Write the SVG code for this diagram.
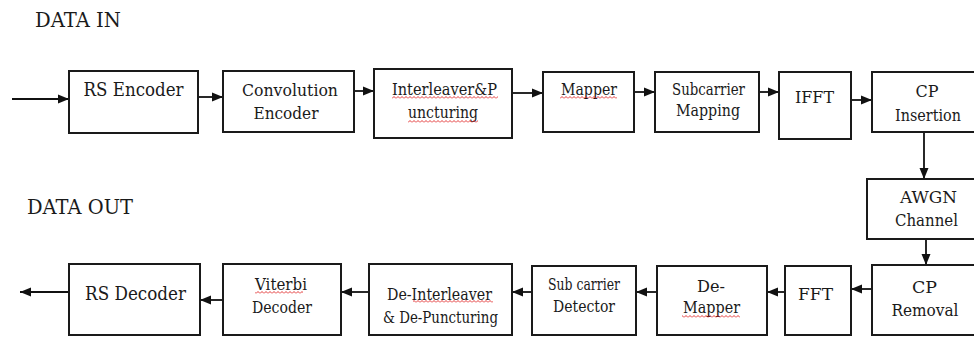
<svg xmlns="http://www.w3.org/2000/svg" width="974" height="337" viewBox="0 0 974 337">
<style>
.box{fill:#fff;stroke:#1a1a1a;stroke-width:2}
text{font-family:'DejaVu Serif','Liberation Serif',serif;fill:#1a1a1a}
.t{font-size:17.5px;text-anchor:middle}
.rs{font-size:18.5px}
.lbl{font-size:20px}
.c{stroke:#111;stroke-width:1.8;fill:none;marker-end:url(#ah)}
.sq{fill:url(#sq)}
</style>
<defs>
<marker id="ah" markerUnits="userSpaceOnUse" markerWidth="12" markerHeight="10" refX="11" refY="5" orient="auto">
<path d="M0,0.5 L11,5 L0,9.5 Z" fill="#111"/>
</marker>
<pattern id="sq" width="4" height="3" patternUnits="userSpaceOnUse">
<path d="M0,2.5 L2,0.5 L4,2.5" stroke="#e02020" stroke-width="0.9" fill="none"/>
</pattern>
</defs>
<rect width="974" height="337" fill="#fff"/>
<text class="lbl" x="35" y="27" textLength="86" lengthAdjust="spacingAndGlyphs">DATA IN</text>
<text class="lbl" x="27" y="214" textLength="106" lengthAdjust="spacingAndGlyphs">DATA OUT</text>
<g id="connectors">
<line class="c" x1="12" y1="99" x2="69" y2="99"/>
<line class="c" x1="198" y1="97" x2="223" y2="97"/>
<line class="c" x1="354" y1="91" x2="374" y2="91"/>
<line class="c" x1="512" y1="93" x2="543" y2="93"/>
<line class="c" x1="634" y1="92" x2="655" y2="92"/>
<line class="c" x1="759" y1="92" x2="779" y2="92"/>
<line class="c" x1="851" y1="100" x2="872" y2="100"/>
<line class="c" x1="924" y1="132" x2="924" y2="179"/>
<line class="c" x1="926" y1="239" x2="926" y2="265"/>
<line class="c" x1="872" y1="289" x2="851" y2="289"/>
<line class="c" x1="785" y1="292" x2="767" y2="292"/>
<line class="c" x1="657" y1="292" x2="636" y2="292"/>
<line class="c" x1="532" y1="292" x2="512" y2="292"/>
<line class="c" x1="369" y1="292" x2="341" y2="292"/>
<line class="c" x1="223" y1="300" x2="200" y2="300"/>
<line class="c" x1="69" y1="292" x2="20" y2="292"/>
</g>
<g id="rs-encoder"><rect class="box" x="69" y="71" width="129" height="62"/><text class="t rs" x="133.5" y="96" textLength="100" lengthAdjust="spacingAndGlyphs">RS Encoder</text></g>
<g id="convolution-encoder"><rect class="box" x="223" y="71" width="131" height="61"/><text class="t" x="290" y="96" textLength="96" lengthAdjust="spacingAndGlyphs">Convolution</text><text class="t" x="286" y="119" textLength="65" lengthAdjust="spacingAndGlyphs">Encoder</text></g>
<g id="interleaver"><rect class="box" x="374" y="69" width="138" height="69"/><text class="t" x="444.5" y="95" textLength="105" lengthAdjust="spacingAndGlyphs">Interleaver&amp;P</text><text class="t" x="443" y="118" textLength="70" lengthAdjust="spacingAndGlyphs">uncturing</text><rect class="sq" x="392" y="96" width="106" height="3"/><rect class="sq" x="408" y="120" width="70" height="3"/></g>
<g id="mapper"><rect class="box" x="543" y="72" width="91" height="60"/><text class="t" x="589" y="95" textLength="56" lengthAdjust="spacingAndGlyphs">Mapper</text><rect class="sq" x="560" y="96" width="57" height="3"/></g>
<g id="subcarrier-mapping"><rect class="box" x="655" y="72" width="104" height="60"/><text class="t" x="708.5" y="95" textLength="73" lengthAdjust="spacingAndGlyphs">Subcarrier</text><text class="t" x="708" y="116" textLength="64" lengthAdjust="spacingAndGlyphs">Mapping</text></g>
<g id="ifft"><rect class="box" x="779" y="72" width="72" height="67"/><text class="t" x="814.5" y="103" textLength="39" lengthAdjust="spacingAndGlyphs">IFFT</text></g>
<g id="cp-insertion"><rect class="box" x="872" y="72" width="118" height="60"/><text class="t" x="927" y="97" textLength="23" lengthAdjust="spacingAndGlyphs">CP</text><text class="t" x="928" y="121" textLength="66" lengthAdjust="spacingAndGlyphs">Insertion</text></g>
<g id="awgn-channel"><rect class="box" x="867" y="179" width="123" height="60"/><text class="t" x="928.5" y="203" textLength="57" lengthAdjust="spacingAndGlyphs">AWGN</text><text class="t" x="926.5" y="226" textLength="63" lengthAdjust="spacingAndGlyphs">Channel</text></g>
<g id="cp-removal"><rect class="box" x="872" y="265" width="118" height="70"/><text class="t" x="924.5" y="293" textLength="25" lengthAdjust="spacingAndGlyphs">CP</text><text class="t" x="925" y="316" textLength="67" lengthAdjust="spacingAndGlyphs">Removal</text></g>
<g id="fft"><rect class="box" x="785" y="266" width="66" height="69"/><text class="t" x="815.5" y="300" textLength="35" lengthAdjust="spacingAndGlyphs">FFT</text></g>
<g id="de-mapper"><rect class="box" x="657" y="266" width="110" height="69"/><text class="t" x="711" y="292" textLength="28" lengthAdjust="spacingAndGlyphs">De-</text><text class="t" x="711.5" y="313" textLength="57" lengthAdjust="spacingAndGlyphs">Mapper</text><rect class="sq" x="682" y="315" width="58" height="3"/></g>
<g id="subcarrier-detector"><rect class="box" x="532" y="266" width="104" height="69"/><text class="t" x="584" y="290" textLength="72" lengthAdjust="spacingAndGlyphs">Sub carrier</text><text class="t" x="584" y="312" textLength="62" lengthAdjust="spacingAndGlyphs">Detector</text></g>
<g id="de-interleaver"><rect class="box" x="369" y="264" width="143" height="71"/><text class="t" x="439.5" y="300" textLength="105" lengthAdjust="spacingAndGlyphs">De-Interleaver</text><text class="t" x="440.5" y="323" textLength="115" lengthAdjust="spacingAndGlyphs">&amp; De-Puncturing</text><rect class="sq" x="413" y="300" width="80" height="3"/></g>
<g id="viterbi-decoder"><rect class="box" x="223" y="264" width="118" height="71"/><text class="t" x="281" y="290" textLength="52" lengthAdjust="spacingAndGlyphs">Viterbi</text><text class="t" x="282" y="313" textLength="60" lengthAdjust="spacingAndGlyphs">Decoder</text><rect class="sq" x="255" y="291" width="48" height="3"/></g>
<g id="rs-decoder"><rect class="box" x="69" y="264" width="131" height="71"/><text class="t rs" x="135.5" y="300" textLength="101" lengthAdjust="spacingAndGlyphs">RS Decoder</text></g>
</svg>
